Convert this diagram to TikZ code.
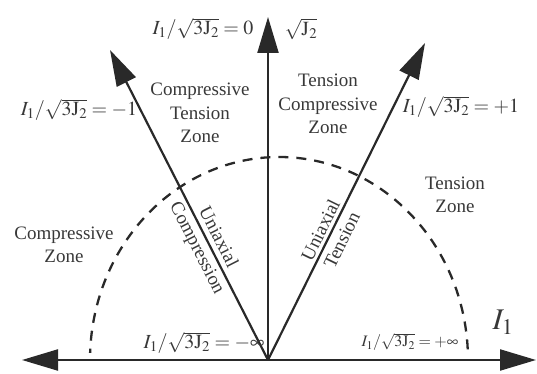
\documentclass[tikz,border=0pt]{standalone}
\usepackage{mathptmx}
\usepackage{fontspec}
\setmainfont{Liberation Serif}
\usetikzlibrary{arrows.meta}
\definecolor{ink}{gray}{0.16}
\definecolor{txt}{gray}{0.22}
\begin{document}
\begin{tikzpicture}[x=1pt,y=1pt,
  axis/.style={draw=ink,line width=2.2pt,-{Triangle[length=36pt,width=21pt]}},
  zone/.style={text=txt,align=center,font=\fontsize{19}{23.5}\selectfont,inner sep=0pt},
  lab/.style={text=txt,font=\fontsize{20}{24}\selectfont,inner sep=0pt},
  small/.style={text=txt,font=\fontsize{16}{19}\selectfont,inner sep=0pt},
  rim/.style={draw=ink,line width=2.3pt,dash pattern=on 10pt off 8pt}]
\useasboundingbox (0,0) rectangle (537,374);
\coordinate (O) at (268,14);
\coordinate (L) at (22,14);
\coordinate (R) at (536,14);
\coordinate (T) at (268,357);
\coordinate (UL) at (110,324);
\coordinate (UR) at (425,331);
% dashed boundary
\draw[rim] (279,14) ++(3:189 and 203) arc[start angle=3,end angle=178,x radius=189,y radius=203];
% axes
\draw[axis] (O) -- (L);
\draw[axis] (O) -- (R);
\draw[axis] (O) -- (T);
\draw[axis] (O) -- (UL);
\draw[axis] (O) -- (UR);
% labels
\node[lab] (l0) at (203,345) {$I_1/\sqrt{3\mathrm{J}_2}=0$};
\node[lab] (sj) at (301,345) {$\sqrt{\mathrm{J}_2}$};
\node[lab] (lm1) at (79,264) {$I_1/\sqrt{3\mathrm{J}_2}=-1$};
\node[lab] (lp1) at (461,267) {$I_1/\sqrt{3\mathrm{J}_2}=+1$};
\node[lab] (lmi) at (204,31) {$I_1/\sqrt{3\mathrm{J}_2}=-\infty$};
\node[small] (lpi) at (410,32) {$I_1/\sqrt{3\mathrm{J}_2}=+\infty$};
\node[text=txt,font=\fontsize{30}{34}\selectfont,inner sep=0pt] (i1) at (503,52) {$I_1$};
\node[zone] (ctz) at (200,261) {Compressive\\Tension\\Zone};
\node[zone] (tcz) at (328,270) {Tension\\Compressive\\Zone};
\node[zone] (tz) at (455,179) {Tension\\Zone};
\node[zone] (cz) at (64,129) {Compressive\\Zone};
\node[zone,rotate=-63] (uc) at (207,131) {Uniaxial\\Compression};
\node[zone,rotate=64] (ut) at (331,139) {Uniaxial\\Tension};
\end{tikzpicture}
\end{document}
